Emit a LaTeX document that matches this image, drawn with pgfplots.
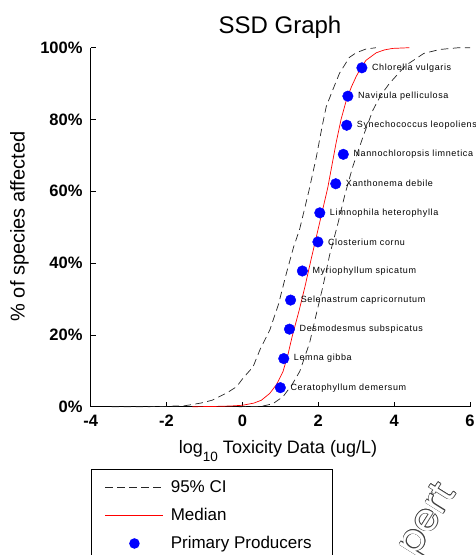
\documentclass[border=0pt]{standalone}
\usepackage{fontspec}
\setmainfont{Liberation Sans}
\newfontfamily\lblfont[LetterSpace=7]{Liberation Sans}
\newfontfamily\wmfont{Poppins}
\usepackage{pgfplots}
\pgfplotsset{compat=1.18}
\pgfplotsset{
  linelegend/.style={legend image code/.code={\draw[##1] (0pt,0pt) -- (58pt,0pt);}},
  dotlegend/.style={legend image code/.code={\path[draw=none, fill=none] (0pt,0pt) -- (58pt,0pt);
    \fill[blue, draw=none] (29pt,0pt) circle (5.3pt);}},
}

\begin{document}
\begin{tikzpicture}[x=1pt,y=1pt]
\begin{axis}[
  at={(90.7pt,148.3pt)}, anchor=south west,
  scale only axis, width=379.3pt, height=359pt,
  xmin=-4, xmax=6, ymin=0, ymax=100,
  axis x line*=bottom, axis y line*=left,
  axis line style={black, line width=0.8pt},
  xtick={-4,-2,0,2,4,6}, xticklabels={-4,-2,0,2,4,6},
  ytick={0,20,40,60,80,100}, yticklabels={0\%,20\%,40\%,60\%,80\%,100\%},
  tick align=inside, major tick length=5pt,
  tick style={black, line width=0.8pt},
  ticklabel style={font=\fontsize{16.5}{18}\selectfont\bfseries},
  xticklabel style={inner sep=0pt, yshift=-8pt},
  yticklabel style={inner sep=0pt, xshift=-8pt},
  clip=false,
  linelegend,
  legend cell align=left,
  legend style={at={(0,-0.1735)}, anchor=north west, draw=black,
    line width=0.8pt, font=\fontsize{17}{20}\selectfont,
    inner xsep=14pt, inner ysep=9pt, row sep=10.5pt,
    nodes={inner sep=2pt},
    /tikz/every odd column/.style={column sep=5pt}},
]

% 95% CI, left bound
\addplot[black!85, line width=0.7pt, dash pattern=on 7.5pt off 4.5pt] coordinates {
  (-3.45,0) (-2.5,0) (-2.0,0.1) (-1.5,0.3) (-1.1,1.0) (-0.8,1.8) (-0.4,3.9)
  (-0.15,5.6) (0.02,8.0) (0.28,11.1) (0.46,15.8) (0.72,21.3) (0.95,28.5)
  (1.16,37.2) (1.35,44.5) (1.51,49.5) (1.75,60) (1.95,69.6) (2.1,78)
  (2.21,83.6) (2.38,88.2) (2.56,92.9) (2.82,97.3) (3.0,98.6) (3.25,99.6) (3.52,100)
};
\addlegendentry{95\% CI}

% 95% CI, right bound
\addplot[black!85, line width=0.7pt, dash pattern=on 7.5pt off 4.5pt, forget plot] coordinates {
  (-0.1,0) (0.5,0.1) (0.8,0.8) (1.07,2.8) (1.3,6) (1.51,9.8) (1.68,15)
  (1.77,17.7) (1.93,25) (2.12,33.4) (2.3,42.3) (2.52,51.1) (2.7,59)
  (2.91,66.9) (3.18,75.2) (3.44,82.6) (3.65,86.8) (3.88,90.1) (4.3,95)
  (4.78,98.4) (5.2,99.5) (5.7,100) (6.0,100)
};

% median
\addplot[red, line width=0.7pt] coordinates {
  (-1.32,0) (-0.8,0.05) (-0.3,0.2) (0,0.4) (0.3,1.0) (0.5,1.8) (0.72,3.7)
  (0.9,6.2) (1.07,9.8) (1.2,14.5) (1.31,19.5) (1.5,27) (1.65,33.5) (1.81,41)
  (2.03,51) (2.25,61) (2.47,73.5) (2.6,80) (2.74,85.4) (2.87,89) (3.0,92)
  (3.13,94.5) (3.26,96.5) (3.53,98.6) (3.75,99.4) (3.96,99.8) (4.4,100)
};
\addlegendentry{Median}

% species
\addplot[only marks, mark=*, mark size=5.3pt, color=blue,
  mark options={fill=blue, draw=blue},
  point meta=explicit symbolic, nodes near coords,
  every node near coord/.append style={text=black, anchor=west, inner sep=0pt,
    xshift=10pt, font={\lblfont\fontsize{9}{10}\selectfont}},
  dotlegend
] coordinates {
  (1.00,5.3) [Ceratophyllum demersum]
  (1.09,13.4) [Lemna gibba]
  (1.24,21.6) [Desmodesmus subspicatus]
  (1.27,29.7) [Selenastrum capricornutum]
  (1.58,37.8) [Myriophyllum spicatum]
  (1.99,45.9) [Closterium cornu]
  (2.04,54.0) [Limnophila heterophylla]
  (2.46,62.1) [Xanthonema debile]
  (2.66,70.3) [Nannochloropsis limnetica]
  (2.75,78.4) [Synechococcus leopoliensis]
  (2.78,86.5) [Navicula pelliculosa]
  (3.15,94.4) [Chlorella vulgaris]
};
\addlegendentry{\makebox[146pt][l]{Primary Producers}}
\end{axis}

\node[font=\fontsize{24}{28}\selectfont] at (280,528) {SSD Graph};
\node[rotate=90, font=\fontsize{20}{24}\selectfont] at (19.5,328.5) {\% of species affected};
\node[anchor=base, font=\fontsize{18}{22}\selectfont] at (278,101)
  {log\raisebox{-7.5pt}{\fontsize{13.5}{14}\selectfont 10} Toxicity Data (ug/L)};

% outlined watermark
\foreach \dx/\dy in {0.55/0, -0.55/0, 0/0.55, 0/-0.55, 0.4/0.4, -0.4/0.4, 0.4/-0.4, -0.4/-0.4}
  \node[rotate=58, anchor=base west, font=\wmfont\fontsize{38}{38}\selectfont, text=black!75]
    at (414+\dx,-6+\dy) {pert};
\node[rotate=58, anchor=base west, font=\wmfont\fontsize{38}{38}\selectfont, text=white]
  at (414,-6) {pert};

\pgfresetboundingbox
\useasboundingbox (0,0) rectangle (476,555);
\end{tikzpicture}
\end{document}
